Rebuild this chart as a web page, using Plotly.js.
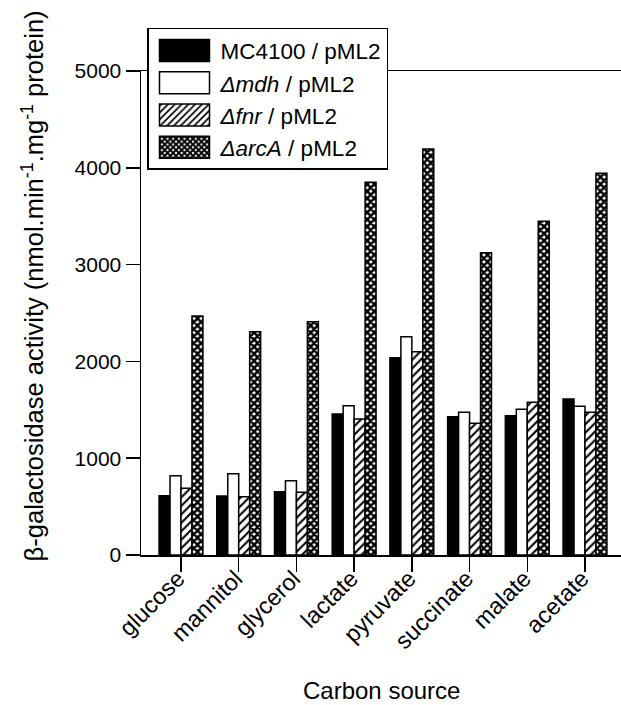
<!DOCTYPE html>
<html>
<head>
<meta charset="utf-8">
<script src="https://cdn.plot.ly/plotly-3.0.1.min.js"></script>
<style>
html,body{margin:0;padding:0;background:#fff;}
#chart{width:621px;height:705px;}
</style>
</head>
<body>
<div id="chart"></div>
<script>
const categories = ["glucose","mannitol","glycerol","lactate","pyruvate","succinate","malate","acetate"];
const seriesNames = ["MC4100 / pML2","<i>Δmdh</i> / pML2","<i>Δfnr</i> / pML2","<i>ΔarcA</i> / pML2"];
const mc4100 = [612, 609, 654, 1457, 2038, 1429, 1439, 1612];
const mdh    = [819, 840, 768, 1543, 2255, 1474, 1505, 1536];
const fnr    = [689, 602, 648, 1405, 2100, 1360, 1577, 1474];
const arcA   = [2469, 2307, 2410, 3850, 4194, 3123, 3447, 3943];
const yTicks = [0, 1000, 2000, 3000, 4000, 5000];

const FONT = "Liberation Sans, Arial, Helvetica, sans-serif";
const line = {color: "black", width: 1.5};

const traces = [
  {type: "bar", name: seriesNames[0], x: categories, y: mc4100,
   marker: {color: "black", line: line}},
  {type: "bar", name: seriesNames[1], x: categories, y: mdh,
   marker: {color: "white", line: line}},
  {type: "bar", name: seriesNames[2], x: categories, y: fnr,
   marker: {color: "white", line: line,
            pattern: {shape: "/", fgcolor: "black", bgcolor: "white", size: 6, solidity: 0.35}}},
  {type: "bar", name: seriesNames[3], x: categories, y: arcA,
   marker: {color: "white", line: line,
            pattern: {shape: "x", fgcolor: "black", bgcolor: "white", size: 5, solidity: 0.72}}}
];

const layout = {
  width: 621, height: 705,
  margin: {l: 141, r: 0, t: 71, b: 150},
  paper_bgcolor: "white", plot_bgcolor: "white",
  font: {family: FONT, color: "black", size: 20},
  barmode: "group",
  bargap: 0.24, bargroupgap: 0,
  showlegend: true,
  legend: {
    x: 0.0125, y: 1.089, xanchor: "left", yanchor: "top",
    bgcolor: "white", bordercolor: "black", borderwidth: 1.5,
    font: {family: FONT, size: 22.5, color: "black"},
    itemwidth: 62, tracegroupgap: 0,
    traceorder: "normal"
  },
  xaxis: {
    type: "category",
    range: [-0.693, 7.624],
    showline: true, linecolor: "black", linewidth: 1.5, mirror: true,
    ticks: "outside", ticklen: 15, tickwidth: 1.5, tickcolor: "black",
    tickangle: -45, tickfont: {family: FONT, size: 23.5, color: "black"},
    showgrid: false, zeroline: false
  },
  yaxis: {
    range: [0, 5000],
    tickvals: yTicks, ticktext: yTicks.map(String),
    showline: true, linecolor: "black", linewidth: 1.5,
    ticks: "outside", ticklen: 14, tickwidth: 1.5, tickcolor: "black",
    tickfont: {family: FONT, size: 21, color: "black"},
    showgrid: false, zeroline: false
  },
  annotations: [
    {text: "β-galactosidase activity (nmol.min<sup>-1</sup>.mg<sup>-1</sup> protein)",
     xref: "paper", yref: "paper", x: -0.225, y: 0.555, textangle: -90,
     showarrow: false, xanchor: "center", yanchor: "middle",
     font: {family: FONT, size: 25.5, color: "black"}},
    {text: "Carbon source",
     xref: "paper", yref: "paper", x: 0.502, y: -0.279,
     showarrow: false, xanchor: "center", yanchor: "middle",
     font: {family: FONT, size: 24, color: "black"}}
  ]
};

Plotly.newPlot("chart", traces, layout, {displayModeBar: false, staticPlot: true}).then(function(gd){
  // enlarge legend swatches to resemble the original's wide boxes
  gd.querySelectorAll(".legend .legendpoints path").forEach(function(p){
    p.setAttribute("d", "M25,11H-25V-11H25Z");
  });
  // pull rotated category labels up toward the tick ends, as in the original
  var NS = "http://www.w3.org/2000/svg";
  gd.querySelectorAll(".xaxislayer-above").forEach(function(layer){
    var labels = layer.querySelectorAll("g.xtick");
    if (!labels.length) return;
    var wrap = document.createElementNS(NS, "g");
    wrap.setAttribute("transform", "translate(-3,-16)");
    layer.appendChild(wrap);
    labels.forEach(function(l){ wrap.appendChild(l); });
  });
});
</script>
</body>
</html>
